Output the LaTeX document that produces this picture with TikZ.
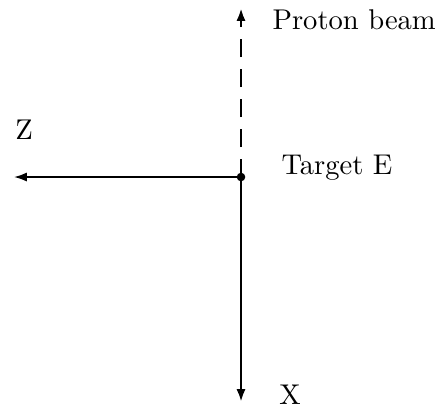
\documentclass[tikz,border=0pt]{standalone}
\usetikzlibrary{arrows.meta}
\begin{document}
\begin{tikzpicture}[x=0.35pt,y=-0.35pt]

      \useasboundingbox (0,0) rectangle (442,410);

      \begin{scope}[every node/.style={inner sep=0pt}]
        \coordinate (E) at (241,177);
        \coordinate (B) at (241,8);
        \coordinate (X) at (241,402);
        \coordinate (Z) at (14,177);
        \node[anchor=west] (b)  at (272,20)  {Proton beam};
        \node[anchor=west] (e)  at (281,168) {Target E};
        \node (z)  at (24,130) {Z};
        \node (x)  at (290,395) {X};
      \end{scope}

      \begin{scope}[>={Latex[length=4.5pt,width=3.2pt]}]
        \draw[line width=0.95pt, dash pattern=on 6.3pt off 4.2pt, ->] (E) -- (B);
        \draw[line width=0.95pt, ->] (E) -- (X);
        \draw[line width=0.65pt, ->] (E) -- (Z);
      \end{scope}

      \fill (E) circle (1.5pt);

    \end{tikzpicture}
\end{document}
